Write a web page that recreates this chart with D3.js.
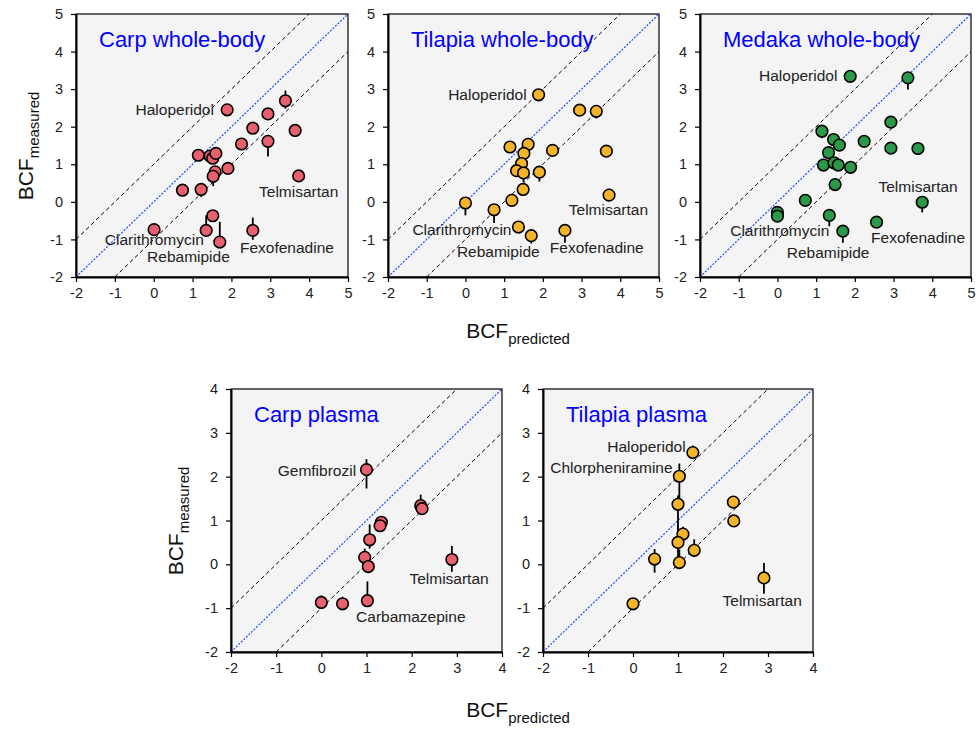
<!DOCTYPE html>
<html>
<head>
<meta charset="utf-8">
<script src="https://cdn.jsdelivr.net/npm/d3@7"></script>
<style>
  body { margin: 0; background: #fff; }
  svg text { font-family: Arial, "Liberation Sans", sans-serif; }
</style>
</head>
<body>
<svg id="chart" width="979" height="729"></svg>
<script>
// points: [predicted, measured, error up, error down]
var carpWhole = [
  [1.89, 2.45, 0, 0], [3.39, 2.69, 0.27, 0.21], [2.94, 2.34, 0, 0], [2.55, 1.96, 0, 0],
  [3.64, 1.90, 0, 0], [2.26, 1.54, 0, 0], [2.94, 1.61, 0, 0.40], [1.15, 1.24, 0, 0],
  [1.45, 1.22, 0, 0], [1.52, 1.16, 0, 0], [1.60, 1.29, 0, 0], [1.91, 0.89, 0, 0],
  [1.58, 0.80, 0, 0], [1.53, 0.68, 0, 0.26], [3.73, 0.69, 0, 0], [0.74, 0.31, 0, 0],
  [1.22, 0.33, 0, 0.20], [1.52, -0.37, 0, 0], [1.35, -0.76, 0.40, 0], [1.70, -1.07, 0.54, 0],
  [0.01, -0.74, 0, 0], [2.55, -0.76, 0.34, 0.25]
];
var tilapiaWhole = [
  [1.89, 2.85, 0, 0], [2.95, 2.44, 0, 0], [3.38, 2.41, 0, 0.19], [3.64, 1.35, 0, 0],
  [2.25, 1.37, 0, 0], [1.15, 1.46, 0, 0], [1.62, 1.53, 0, 0], [1.51, 1.29, 0, 0],
  [1.45, 1.02, 0, 0], [1.32, 0.83, 0, 0], [1.50, 0.77, 0, 0.24], [1.91, 0.79, 0, 0.25],
  [1.49, 0.33, 0, 0], [1.20, 0.04, 0.14, 0], [3.71, 0.18, 0.17, 0], [0.00, -0.03, 0, 0.33],
  [0.74, -0.21, 0, 0.35], [1.37, -0.67, 0, 0], [1.70, -0.90, 0, 0.21], [2.57, -0.76, 0, 0.33]
];
var medakaWhole = [
  [1.88, 3.34, 0, 0], [3.37, 3.30, 0, 0.31], [2.93, 2.12, 0.14, 0], [1.15, 1.88, 0, 0.19],
  [1.45, 1.66, 0, 0], [1.60, 1.51, 0, 0], [2.24, 1.61, 0, 0], [2.93, 1.43, 0, 0.1],
  [3.63, 1.42, 0, 0], [1.32, 1.31, 0, 0], [1.19, 0.98, 0, 0], [1.46, 1.04, 0, 0],
  [1.57, 0.98, 0, 0], [1.89, 0.92, 0, 0], [1.49, 0.46, 0, 0], [0.72, 0.04, 0.13, 0],
  [0.00, -0.28, 0.1, 0], [0.00, -0.38, 0, 0], [1.34, -0.36, 0, 0.29], [3.74, -0.01, 0, 0.27],
  [2.56, -0.54, 0, 0], [1.69, -0.78, 0, 0.31]
];
var carpPlasma = [
  [1.00, 2.16, 0.24, 0.43], [2.20, 1.34, 0.25, 0], [2.23, 1.27, 0, 0], [1.33, 0.96, 0.14, 0],
  [1.30, 0.88, 0, 0], [1.07, 0.56, 0.35, 0.2], [0.96, 0.16, 0.20, 0], [1.04, -0.05, 0, 0],
  [2.89, 0.11, 0.31, 0.28], [0.00, -0.87, 0.16, 0], [0.47, -0.90, 0.16, 0], [1.02, -0.83, 0.44, 0]
];
var tilapiaPlasma = [
  [1.33, 2.55, 0.16, 0], [1.03, 2.01, 0.29, 0.55], [1.00, 1.37, 0.2, 0.6], [2.23, 1.42, 0, 0],
  [2.24, 0.99, 0, 0], [1.11, 0.69, 0.17, 0], [1.00, 0.50, 0.4, 0.35], [1.36, 0.32, 0.25, 0],
  [0.48, 0.12, 0.23, 0.31], [1.03, 0.04, 0.3, 0], [2.91, -0.31, 0.34, 0.36], [0.00, -0.90, 0, 0]
];

// annotations: [text, x, y, anchor]
var carpWholeLabels = [
  ['Haloperidol', 1.55, 2.31, 'end'], ['Telmisartan', 2.71, 0.13, 'start'],
  ['Clarithromycin', 1.29, -1.15, 'end'], ['Rebamipide', -0.17, -1.60, 'start'],
  ['Fexofenadine', 2.22, -1.36, 'start']
];
var tilapiaWholeLabels = [
  ['Haloperidol', 1.58, 2.71, 'end'], ['Telmisartan', 2.67, -0.35, 'start'],
  ['Clarithromycin', 1.19, -0.88, 'end'], ['Rebamipide', -0.22, -1.47, 'start'],
  ['Fexofenadine', 2.18, -1.36, 'start']
];
var medakaWholeLabels = [
  ['Haloperidol', 1.55, 3.21, 'end'], ['Telmisartan', 2.61, 0.27, 'start'],
  ['Clarithromycin', 1.34, -0.91, 'end'], ['Rebamipide', 0.24, -1.49, 'start'],
  ['Fexofenadine', 2.42, -1.10, 'start']
];
var carpPlasmaLabels = [
  ['Gemfibrozil', 0.77, 2.02, 'end'], ['Telmisartan', 1.95, -0.46, 'start'],
  ['Carbamazepine', 0.77, -1.32, 'start']
];
var tilapiaPlasmaLabels = [
  ['Haloperidol', 1.17, 2.57, 'end'], ['Chlorpheniramine', 0.88, 2.09, 'end'],
  ['Telmisartan', 1.99, -0.96, 'start']
];

var wholeTicks = [-2, -1, 0, 1, 2, 3, 4, 5];
var plasmaTicks = [-2, -1, 0, 1, 2, 3, 4];

var carpColor = '#e8606e', tilapiaColor = '#f4b42a', medakaColor = '#2a9a48';

var panels = [
  { title: 'Carp whole-body', data: carpWhole, labels: carpWholeLabels, ticks: wholeTicks, color: carpColor, x0: 76, x1: 348, y0: 14, y1: 277 },
  { title: 'Tilapia whole-body', data: tilapiaWhole, labels: tilapiaWholeLabels, ticks: wholeTicks, color: tilapiaColor, x0: 388, x1: 659, y0: 14, y1: 277 },
  { title: 'Medaka whole-body', data: medakaWhole, labels: medakaWholeLabels, ticks: wholeTicks, color: medakaColor, x0: 700, x1: 971, y0: 14, y1: 277 },
  { title: 'Carp plasma', data: carpPlasma, labels: carpPlasmaLabels, ticks: plasmaTicks, color: carpColor, x0: 231, x1: 502, y0: 389, y1: 652 },
  { title: 'Tilapia plasma', data: tilapiaPlasma, labels: tilapiaPlasmaLabels, ticks: plasmaTicks, color: tilapiaColor, x0: 543, x1: 813, y0: 389, y1: 652 }
];

var svg = d3.select('#chart');

function drawPanel(p) {
    var lo = p.ticks[0], hi = p.ticks[p.ticks.length - 1];
    var x = d3.scaleLinear().domain([lo, hi]).range([p.x0, p.x1]);
    var y = d3.scaleLinear().domain([lo, hi]).range([p.y1, p.y0]);
    var g = svg.append('g');

    g.append('rect')
        .attr('x', p.x0).attr('y', p.y0)
        .attr('width', p.x1 - p.x0).attr('height', p.y1 - p.y0)
        .attr('fill', '#f4f4f4')
        .attr('stroke', '#000')
        .attr('stroke-width', 1.2);

    // 1:1 line and the factor-of-ten band
    [[0, '#1a4dff', '2,1.5', 1.2], [1, '#000', '4,3', 1], [-1, '#000', '4,3', 1]].forEach(function(l) {
        var c = l[0];
        var xa = Math.max(lo, lo - c), xb = Math.min(hi, hi - c);
        g.append('line')
            .attr('x1', x(xa)).attr('y1', y(xa + c))
            .attr('x2', x(xb)).attr('y2', y(xb + c))
            .attr('stroke', l[1])
            .attr('stroke-width', l[3])
            .attr('stroke-dasharray', l[2]);
    });

    var ax = g.append('g')
        .attr('transform', 'translate(0,' + p.y1 + ')')
        .call(d3.axisBottom(x).tickValues(p.ticks).tickFormat(d3.format('d')).tickSize(5).tickSizeOuter(0).tickPadding(6));
    var ay = g.append('g')
        .attr('transform', 'translate(' + p.x0 + ',0)')
        .call(d3.axisLeft(y).tickValues(p.ticks).tickFormat(d3.format('d')).tickSize(5).tickSizeOuter(0).tickPadding(8));
    [ax, ay].forEach(function(a) {
        a.select('.domain').attr('stroke-width', 2);
        a.selectAll('.tick line').attr('stroke-width', 1.2);
        a.selectAll('.tick text').attr('font-size', 14.5).attr('fill', '#222')
            .text(function(d) { return d < 0 ? '-' + Math.abs(d) : d; });
    });

    g.append('text')
        .attr('x', p.x0 + 23).attr('y', p.y0 + 33)
        .attr('fill', '#0000ff')
        .attr('font-size', 22)
        .text(p.title);

    g.selectAll('.err').data(p.data).enter().append('line')
        .attr('x1', function(d) { return x(d[0]); })
        .attr('x2', function(d) { return x(d[0]); })
        .attr('y1', function(d) { return y(d[1] + d[2]); })
        .attr('y2', function(d) { return y(d[1] - d[3]); })
        .attr('stroke', '#000')
        .attr('stroke-width', 1.8);

    g.selectAll('.lbl').data(p.labels).enter().append('text')
        .attr('x', function(d) { return x(d[1]); })
        .attr('y', function(d) { return y(d[2]); })
        .attr('text-anchor', function(d) { return d[3]; })
        .attr('font-size', 15.5)
        .attr('fill', '#222')
        .text(function(d) { return d[0]; });

    g.selectAll('circle').data(p.data).enter().append('circle')
        .attr('cx', function(d) { return x(d[0]); })
        .attr('cy', function(d) { return y(d[1]); })
        .attr('r', 5.8)
        .attr('fill', p.color)
        .attr('stroke', '#000')
        .attr('stroke-width', 1.6);
}

panels.forEach(drawPanel);

// axis titles
function yTitle(cx, cy) {
    var t = svg.append('text')
        .attr('transform', 'translate(' + cx + ',' + cy + ') rotate(-90)')
        .attr('text-anchor', 'middle')
        .attr('fill', '#111');
    t.append('tspan').attr('font-size', 21).text('BCF');
    t.append('tspan').attr('font-size', 15).attr('dy', 6).text('measured');
}
function xTitle(cx, cy) {
    var t = svg.append('text')
        .attr('x', cx).attr('y', cy)
        .attr('text-anchor', 'middle')
        .attr('fill', '#111');
    t.append('tspan').attr('font-size', 21).text('BCF');
    t.append('tspan').attr('font-size', 15).attr('dy', 6).text('predicted');
}
yTitle(33, 146);
yTitle(183, 521);
xTitle(518, 338);
xTitle(518, 717);
</script>
</body>
</html>
